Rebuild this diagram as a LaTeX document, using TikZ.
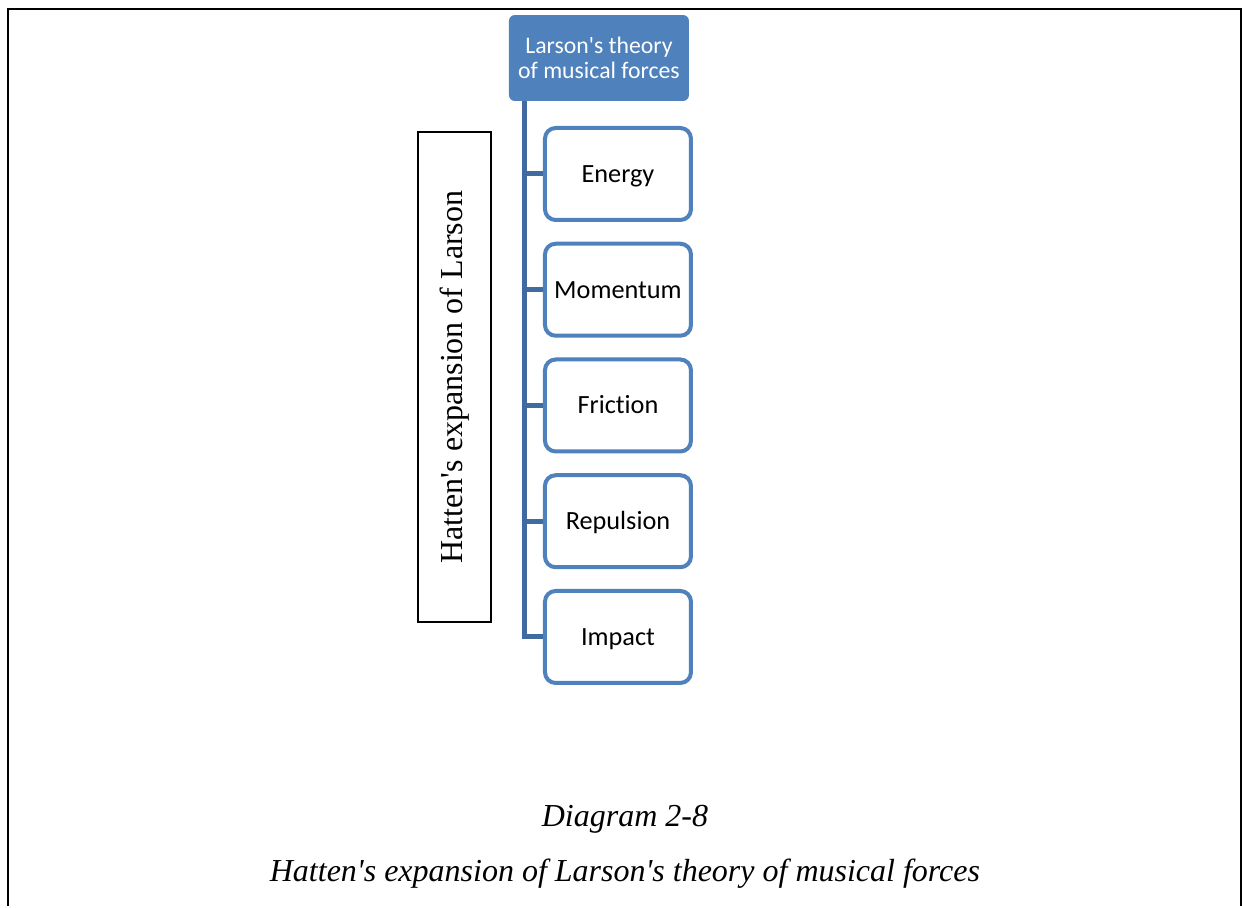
\documentclass[tikz,border=0pt]{standalone}
\usepackage{fontspec}
\setmainfont{Liberation Serif}[Ligatures=TeXOff]
\newfontfamily\calibri{Carlito}[Ligatures={CommonOff,ContextualOff,RareOff,TeXOff}]
\definecolor{accent}{RGB}{79,129,189}
\definecolor{spinecol}{RGB}{64,106,160}
\begin{document}
\begin{tikzpicture}[x=0.75pt,y=-0.75pt,
  rootbox/.style={draw=none,fill=accent,rounded corners=4.5pt,minimum width=135pt,minimum height=64.5pt,
    inner sep=0pt,align=center,text=white,font=\calibri\fontsize{17.8}{18.8}\selectfont},
  forcebox/.style={draw=accent,line width=3pt,fill=white,rounded corners=8pt,minimum width=109.5pt,
    minimum height=69pt,inner sep=0pt,text height=12.7pt,text depth=0pt,font=\calibri\fontsize{19.7}{23}\selectfont},
  sidebox/.style={draw=black,line width=1.5pt,fill=white,minimum width=367.5pt,minimum height=54.75pt,
    inner sep=0pt,rotate=90,font=\fontsize{24}{28}\selectfont},
  spine/.style={draw=spinecol,line width=3.75pt,line join=miter},
  caption/.style={anchor=base,font=\itshape\fontsize{24}{28}\selectfont}]
% page and open frame
\fill[white] (0,0) rectangle (1242,906);
\draw[line width=1.6pt] (8,906) -- (8,9) -- (1241,9) -- (1241,906);

% root of the hierarchy
\node[rootbox] (root) at (599,58) {Larson's theory\\of musical forces};

% the five forces
\node[forcebox] (energy)    at (618,174)    {Energy};
\node[forcebox] (momentum)  at (618,289.75) {Momentum};
\node[forcebox] (friction)  at (618,405.5)  {Friction};
\node[forcebox] (repulsion) at (618,521.25) {Repulsion};
\node[forcebox] (impact)    at (618,637)    {Impact};

% side label
\node[sidebox] (side) at (454.5,377) {Hatten's expansion of Larson};

% connectors
\coordinate (spinetop) at (525,101);
\draw[spine] (spinetop) |- (impact.west);
\foreach \n in {energy,momentum,friction,repulsion}
  \draw[spine] (spinetop |- \n.west) -- (\n.west);

% captions
\node[caption] (cap1) at (625,827) {Diagram 2-8};
\node[caption] (cap2) at (625,882) {Hatten's expansion of Larson's theory of musical forces};
\end{tikzpicture}
\end{document}
